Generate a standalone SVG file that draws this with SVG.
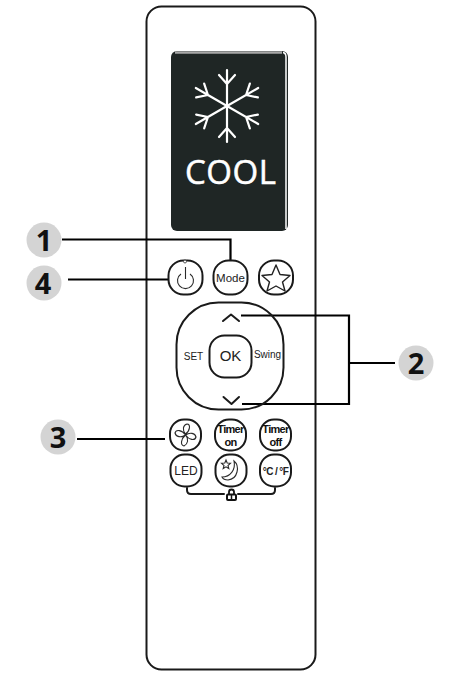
<svg xmlns="http://www.w3.org/2000/svg" width="457" height="676" viewBox="0 0 457 676">
<defs>
<style>
.o{fill:none;stroke:#1a1a1a;stroke-width:2;stroke-linejoin:round;stroke-linecap:round}
.t{fill:none;stroke:#2a2a2a;stroke-width:1.1}
.c{fill:none;stroke:#000;stroke-width:2.2;stroke-linejoin:miter}
.b{fill:#d4d4d4}
.n{font:bold 29px "Open Sans","Liberation Sans",sans-serif;fill:#111;text-anchor:middle}
.l{font-family:"Liberation Sans",Arial,sans-serif;fill:#222;text-anchor:middle}
.k{font-family:"Liberation Sans",Arial,sans-serif;font-weight:bold;fill:#111;text-anchor:middle;font-size:11px;letter-spacing:-.7px}
.s{fill:none;stroke:#fff;stroke-width:2.2;stroke-linecap:round;stroke-linejoin:round}
</style>
<g id="arm"><path d="M0 0V-36M-8 -31L0 -22L8 -31" class="s"/></g>
</defs>
<rect width="457" height="676" fill="#fff"/>
<g id="remote"><rect x="146.500" y="6.500" width="169" height="663" rx="15" class="o"/></g>
<g id="screen">
<rect x="171" y="51" width="117" height="180" rx="6" fill="#1f2625"/>
<path d="M175 52.500H282" stroke="#a8a8a8" stroke-width="2.500" fill="none"/>
<path d="M283 52.500Q286 53 286 57V229" stroke="#fff" stroke-width="1.500" fill="none"/>
<g transform="translate(227 106)">
<use href="#arm"/><use href="#arm" transform="rotate(60)"/><use href="#arm" transform="rotate(120)"/><use href="#arm" transform="rotate(180)"/><use href="#arm" transform="rotate(240)"/><use href="#arm" transform="rotate(300)"/>
</g>
<text x="230.500" y="184" font-family="Open Sans, Liberation Sans, sans-serif" font-size="33" fill="#fff" stroke="#fff" stroke-width=".5" text-anchor="middle" textLength="91">COOL</text>
</g>
<g id="connectors">
<path d="M62 239.500H230.500V261" class="c"/>
<path d="M68 279.500H168" class="c"/>
<path d="M241 315.500H349V404H242" class="c"/>
<path d="M349 363H395" class="c"/>
<path d="M77 439H165" class="c"/>
</g>
<g id="callout-1"><circle cx="44" cy="240" r="17.500" class="b"/><text x="44" y="250.500" class="n">1</text></g>
<g id="callout-4"><circle cx="44" cy="283" r="17.500" class="b"/><text x="43" y="293.500" class="n">4</text></g>
<g id="callout-2"><circle cx="416" cy="363" r="17.500" class="b"/><text x="416" y="373.500" class="n">2</text></g>
<g id="callout-3"><circle cx="58" cy="437" r="17.500" class="b"/><text x="58" y="447.500" class="n">3</text></g>
<g id="btn-power"><rect x="168.500" y="260.500" width="34" height="34" rx="15" class="o"/>
<path d="M181 274A8 8 0 1 0 190 274M185.500 267V279" class="t"/><circle cx="185" cy="261.500" r="1.500" fill="#fff" stroke="#333" stroke-width=".8"/></g>
<g id="btn-mode"><rect x="213.500" y="260.500" width="34" height="34" rx="15" class="o"/><text x="230.500" y="282" class="l" font-size="11.500">Mode</text></g>
<g id="btn-star"><rect x="259" y="260.500" width="34" height="34" rx="15" class="o"/>
<path d="M276 265L280 274.500L290 275.500L282.500 282L285 291L276 286L267 291L269.500 282L262 275.500L272 274.500Z" fill="none" stroke="#222" stroke-width="1.400" stroke-linejoin="round"/></g>
<g id="dpad">
<rect x="176.500" y="302.500" width="107" height="107" rx="42" class="o"/>
<rect x="209.500" y="335.500" width="42" height="42" rx="15" class="o"/>
<text x="230.500" y="361" class="l" font-size="15">OK</text>
<text x="193.500" y="360" class="l" font-size="10">SET</text>
<text x="267.500" y="358" class="l" font-size="10">Swing</text>
<path d="M223 321L231 314.500L239 321" class="o"/>
<path d="M223.500 397L231.500 404L239 397" class="o"/>
</g>
<g id="btn-fan"><rect x="170" y="419.500" width="31" height="31" rx="14" class="o"/>
<path d="M185.500 434C182 430 183 425 187 424C191 424 190 431 185.500 434ZM185.500 435C190 432 195 433 196 437C195 441 189 440 185.500 435ZM185.500 435C189 439 188 444 184 446C180 445 181 439 185.500 435ZM185.500 435C181 438 176 437 175 433C176 429 182 430 185.500 435Z" class="t"/></g>
<g id="btn-timer-on"><rect x="215" y="419.500" width="31" height="31" rx="14" class="o"/><text x="230.500" y="433" class="k">Timer</text><text x="230.500" y="445.500" class="k">on</text></g>
<g id="btn-timer-off"><rect x="260" y="419.500" width="31" height="31" rx="14" class="o"/><text x="275.500" y="433" class="k">Timer</text><text x="275.500" y="445.500" class="k">off</text></g>
<g id="btn-led"><rect x="170.500" y="454.500" width="31" height="32" rx="14" class="o"/><text x="186" y="475" class="l" font-size="12">LED</text></g>
<g id="btn-sleep"><rect x="215.500" y="454.500" width="31" height="32" rx="14" class="o"/>
<path d="M234 461C240 466 238 479 228 480C225 480 223 479 222 477C230 477 236 470 234 461Z" class="t"/>
<path d="M226 460L227.200 463L230.500 463.300L228 465.500L228.800 468.500L226 466.800L223.200 468.500L224 465.500L221.500 463.300L224.800 463Z" class="t"/></g>
<g id="btn-temp"><rect x="260" y="454.500" width="31" height="32" rx="14" class="o"/><text x="275.500" y="474.500" class="l" font-size="10" font-weight="bold" letter-spacing="-.6">°C / °F</text></g>
<g id="lock-bracket">
<path d="M187 488V490Q187 494 191 494H224M238 494H271Q275 494 275 490V488" class="o"/>
<path d="M229 494V492A2.500 2.500 0 0 1 234 492V494" fill="none" stroke="#111" stroke-width="1.800"/>
<rect x="227" y="494.500" width="9" height="5.500" rx="1" fill="none" stroke="#111" stroke-width="2"/>
<path d="M231.500 494V500" stroke="#111" stroke-width="1.500"/>
</g>
</svg>
